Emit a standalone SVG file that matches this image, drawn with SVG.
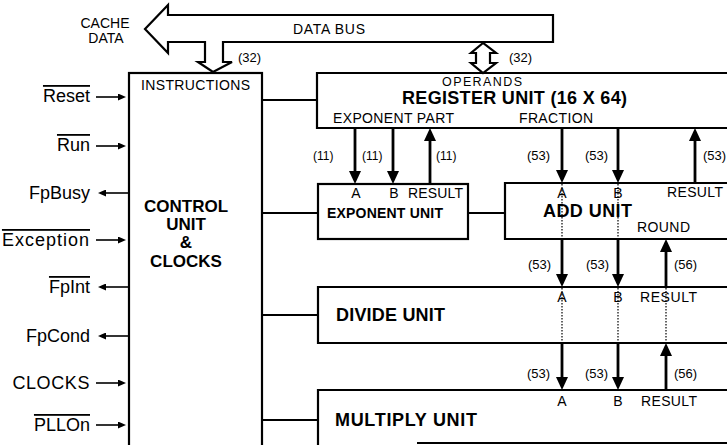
<svg xmlns="http://www.w3.org/2000/svg" width="727" height="445" viewBox="0 0 727 445">
<style>
text{font-family:"Liberation Sans",Arial,Helvetica,sans-serif;fill:#000}
.b{font-weight:bold}
.s{font-size:14px}
.n{font-size:13px}
.m{font-size:12px}
.sig{font-size:18px;text-anchor:end}
.ov{text-decoration:overline}
.box{fill:none;stroke:#000;stroke-width:2.2}
.c{fill:none;stroke:#000;stroke-width:1.8}
.sa{fill:none;stroke:#000;stroke-width:1.6;marker-end:url(#sh)}
.ta{fill:none;stroke:#000;stroke-width:2.8;marker-end:url(#ah)}
.dt{fill:none;stroke:#000;stroke-width:1.2;stroke-dasharray:1.5 1.5}
.mid{text-anchor:middle}
</style>
<defs>
<marker id="ah" viewBox="0 0 13 12" refX="5" refY="6" markerWidth="13" markerHeight="12" markerUnits="userSpaceOnUse" orient="auto"><path d="M0,0 L13,6 L0,12 z" fill="#000"/></marker>
<marker id="sh" viewBox="0 0 8 7" refX="3" refY="3.5" markerWidth="8" markerHeight="7" markerUnits="userSpaceOnUse" orient="auto"><path d="M0,0 L8,3.5 L0,7 z" fill="#000"/></marker>
</defs>
<rect width="727" height="445" fill="#fff"/>

<g id="databus">
<path class="box" d="M553 15 H168 V5 L145 29 L168 53 V42 H205 V62 H198 L213 72 L232 62 H223 V42 H553 Z"/>
<path class="box" d="M483 43 L471 53 H476 V63 H471 L483 73 L496 63 H490 V53 H496 Z" fill="#fff"/>
<text class="s" x="105" y="28" text-anchor="middle">CACHE</text>
<text class="s" x="106" y="43" text-anchor="middle">DATA</text>
<text class="s" x="293" y="34" textLength="72">DATA BUS</text>
<text class="n" x="238" y="62">(32)</text>
<text class="n" x="509" y="62">(32)</text>
</g>

<g id="control">
<rect class="box" x="129" y="73" width="133" height="390"/>
<text class="s" x="141" y="90" textLength="109">INSTRUCTIONS</text>
<text class="b mid" x="186" y="212" font-size="17">CONTROL</text>
<text class="b mid" x="186" y="230" font-size="17">UNIT</text>
<text class="b mid" x="186" y="248" font-size="17">&amp;</text>
<text class="b mid" x="186" y="267" font-size="17">CLOCKS</text>
</g>

<g id="signals">
<text class="sig ov" x="90" y="102">Reset</text>
<text class="sig ov" x="90" y="151">Run</text>
<text class="sig" x="90" y="199">FpBusy</text>
<text class="sig ov" x="90" y="246" letter-spacing="1">Exception</text>
<text class="sig ov" x="90" y="293">FpInt</text>
<text class="sig" x="90" y="342">FpCond</text>
<text class="sig" x="90" y="389" letter-spacing="0.6">CLOCKS</text>
<text class="sig ov" x="90" y="431">PLLOn</text>
</g>

<g id="register">
<path class="box" d="M740 73 H317 V128 H740"/>
<text x="442" y="86" font-size="12.5" textLength="80">OPERANDS</text>
<text class="b" x="402" y="104" font-size="18" textLength="225">REGISTER UNIT (16 X 64)</text>
<text class="s" x="333" y="123" textLength="121">EXPONENT PART</text>
<text class="s" x="519" y="123" textLength="74">FRACTION</text>
</g>

<g id="exponent">
<rect class="box" x="318" y="184" width="150" height="55"/>
<text class="s mid" x="356" y="198">A</text>
<text class="s mid" x="394" y="198">B</text>
<text class="s" x="408" y="198" textLength="55">RESULT</text>
<text class="b" x="327" y="218" font-size="14" textLength="116">EXPONENT UNIT</text>
</g>

<g id="add">
<path class="box" d="M740 183 H505 V239 H740"/>
<text class="s mid" x="562" y="198">A</text>
<text class="s mid" x="618" y="198">B</text>
<text class="s" x="667" y="197" textLength="56">RESULT</text>
<text class="b" x="543" y="217" font-size="18" textLength="89">ADD UNIT</text>
<text class="s" x="637" y="232" textLength="53">ROUND</text>
</g>

<g id="divide">
<path class="box" d="M740 287 H318 V343 H740"/>
<text class="s mid" x="562" y="302">A</text>
<text class="s mid" x="618" y="302">B</text>
<text class="s" x="640" y="302" textLength="57">RESULT</text>
<text class="b" x="336" y="321" font-size="18" textLength="109">DIVIDE UNIT</text>
</g>

<g id="multiply">
<path class="box" d="M740 390 H318 V460"/>
<path class="box" d="M417 443 H740"/>
<text class="s mid" x="562" y="406">A</text>
<text class="s mid" x="618" y="406">B</text>
<text class="s" x="641" y="406" textLength="56">RESULT</text>
<text class="b" x="335" y="426" font-size="18" textLength="142">MULTIPLY UNIT</text>
</g>

<g id="connectors">
<path class="c" d="M262 100 H317 M262 213 H318 M468 213 H505 M262 315 H318 M262 420 H318"/>
<path class="sa" d="M96 97 H121"/>
<path class="sa" d="M96 146 H121"/>
<path class="sa" d="M128 193 H103"/>
<path class="sa" d="M96 240 H121"/>
<path class="sa" d="M128 287 H103"/>
<path class="sa" d="M128 336 H103"/>
<path class="sa" d="M96 383 H121"/>
<path class="sa" d="M96 425 H121"/>
<path class="ta" d="M355 128 V176"/>
<path class="ta" d="M393 128 V176"/>
<path class="ta" d="M430 184 V136"/>
<path class="ta" d="M562 128 V175"/>
<path class="ta" d="M618 128 V175"/>
<path class="ta" d="M695 183 V136"/>
<path class="ta" d="M562 239 V279"/>
<path class="ta" d="M618 239 V279"/>
<path class="ta" d="M666 287 V247"/>
<path class="ta" d="M562 343 V382"/>
<path class="ta" d="M618 343 V382"/>
<path class="ta" d="M666 390 V351"/>
<path class="dt" d="M562 184 V238 M618 184 V238 M562 288 V342 M618 288 V342 M666 288 V342"/>
<text class="m" x="313" y="160">(11)</text>
<text class="m" x="362" y="160">(11)</text>
<text class="m" x="436" y="160">(11)</text>
<text class="n" x="527" y="160">(53)</text>
<text class="n" x="585" y="160">(53)</text>
<text class="n" x="703" y="160">(53)</text>
<text class="n" x="528" y="269">(53)</text>
<text class="n" x="586" y="269">(53)</text>
<text class="n" x="674" y="269">(56)</text>
<text class="n" x="527" y="378">(53)</text>
<text class="n" x="585" y="378">(53)</text>
<text class="n" x="674" y="378">(56)</text>
</g>
</svg>
